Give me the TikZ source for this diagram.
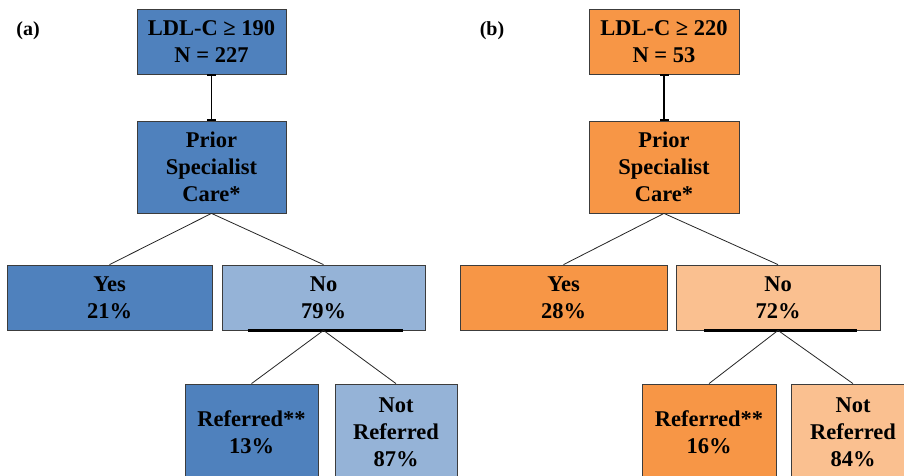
\documentclass[tikz,border=0pt]{standalone}
\usepackage{fontspec}
\setmainfont{Liberation Serif}
\usetikzlibrary{arrows.meta}
\definecolor{dblue}{HTML}{4F81BD}
\definecolor{lblue}{HTML}{95B3D7}
\definecolor{dorange}{HTML}{F79646}
\definecolor{lorange}{HTML}{FAC090}
\definecolor{edge}{HTML}{3C3C3C}
\begin{document}
\begin{tikzpicture}[x=1pt,y=-1pt,
  box/.style={draw=edge, line width=0.8pt, inner sep=0pt, align=center,
    font=\fontsize{22.5}{27}\selectfont\bfseries, text=black},
  conn/.style={draw=black!85, line width=0.8pt},
  tick/.style={draw=black, line width=1.4pt, {Bar[width=9pt,line width=1.6pt]}-{Bar[width=9pt,line width=1.6pt]}},
  under/.style={draw=black, line width=2.2pt},
  panel/.style={font=\fontsize{20}{24}\selectfont\bfseries}]
\clip (0,0) rectangle (904,475);
\fill[white] (0,0) rectangle (904,475);
% ---------- panel (a)
\node[panel] (la) at (28,31) {(a)};
\node[box, fill=dblue, minimum width=149pt, minimum height=65pt] (ta) at (211.5,41.5) {LDL-C ≥ 190\\N = 227};
\node[box, fill=dblue, minimum width=149pt, minimum height=92pt] (pa) at (211.5,167) {Prior\\Specialist\\Care*};
\node[box, fill=dblue, minimum width=205pt, minimum height=65pt] (ya) at (109.5,297.5) {Yes\\21\%};
\node[box, fill=lblue, minimum width=203pt, minimum height=65pt] (na) at (323.5,297.5) {No\\79\%};
\node[box, fill=dblue, minimum width=133pt, minimum height=96pt] (ra) at (251.5,432) {Referred**\\13\%};
\node[box, fill=lblue, minimum width=122pt, minimum height=96pt] (nra) at (396,432) {Not\\Referred\\87\%};
\draw[tick] (ta.south) -- (pa.north);
\draw[conn] (pa.south) -- (ya.north);
\draw[conn] (pa.south) -- (na.north);
\draw[under] (na.south) ++(-76,0) -- ++(155,0);
\draw[conn] (na.south) -- (ra.north);
\draw[conn] (na.south) -- (nra.north);
% ---------- panel (b)
\node[panel] (lb) at (492,31) {(b)};
\node[box, fill=dorange, minimum width=150pt, minimum height=65pt] (tb) at (664,41.5) {LDL-C ≥ 220\\N = 53};
\node[box, fill=dorange, minimum width=150pt, minimum height=92pt] (pb) at (664,167) {Prior\\Specialist\\Care*};
\node[box, fill=dorange, minimum width=207pt, minimum height=65pt] (yb) at (563.5,297.5) {Yes\\28\%};
\node[box, fill=lorange, minimum width=204pt, minimum height=65pt] (nb) at (778,297.5) {No\\72\%};
\node[box, fill=dorange, minimum width=134pt, minimum height=96pt] (rb) at (709,432) {Referred**\\16\%};
\node[box, fill=lorange, minimum width=124pt, minimum height=96pt] (nrb) at (853,432) {Not\\Referred\\84\%};
\draw[tick] (tb.south) -- (pb.north);
\draw[conn] (pb.south) -- (yb.north);
\draw[conn] (pb.south) -- (nb.north);
\draw[under] (nb.south) ++(-74,0) -- ++(153,0);
\draw[conn] (nb.south) -- (rb.north);
\draw[conn] (nb.south) -- (nrb.north);
\end{tikzpicture}
\end{document}
